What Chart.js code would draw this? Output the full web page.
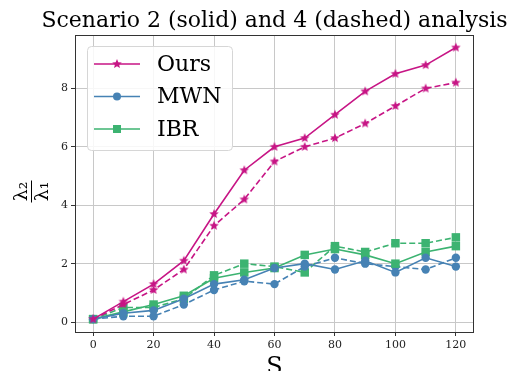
<!DOCTYPE html>
<html>
<head>
<meta charset="utf-8">
<script src="https://cdn.jsdelivr.net/npm/chart.js@4"></script>
<style>
  html, body { margin: 0; padding: 0; background: #fff; }
  #wrap { width: 516px; height: 371px; }
</style>
</head>
<body>
<div id="wrap"><canvas id="scenarioChart" width="516" height="371"></canvas></div>
<script>
var sizes = [0, 10, 20, 30, 40, 50, 60, 70, 80, 90, 100, 110, 120];

// scenario 2 (solid)
var oursSolid = [0.1, 0.7, 1.3, 2.1, 3.7, 5.2, 6.0, 6.3, 7.1, 7.9, 8.5, 8.8, 9.4];
var mwnSolid  = [0.1, 0.3, 0.4, 0.8, 1.3, 1.45, 1.85, 2.0, 1.8, 2.1, 1.7, 2.2, 1.9];
var ibrSolid  = [0.1, 0.35, 0.6, 0.9, 1.5, 1.7, 1.85, 2.3, 2.5, 2.3, 2.0, 2.4, 2.6];

// scenario 4 (dashed)
var oursDashed = [0.1, 0.6, 1.1, 1.8, 3.3, 4.2, 5.5, 6.0, 6.3, 6.8, 7.4, 8.0, 8.2];
var mwnDashed  = [0.1, 0.2, 0.2, 0.6, 1.1, 1.4, 1.3, 1.9, 2.2, 2.0, 1.9, 1.8, 2.2];
var ibrDashed  = [0.1, 0.5, 0.5, 0.8, 1.6, 2.0, 1.9, 1.7, 2.6, 2.4, 2.7, 2.7, 2.9];

var xTicks = [0, 20, 40, 60, 80, 100, 120];
var yTicks = [0, 2, 4, 6, 8];

var OURS = '#c71585', MWN = '#4682b4', IBR = '#3cb371';
var SERIF = '"DejaVu Serif", "Liberation Serif", serif';

function starImage(color, r)
{
    var c = document.createElement('canvas');
    var s = Math.ceil(r * 2 + 2);
    c.width = s; c.height = s;
    var g = c.getContext('2d');
    g.fillStyle = color;
    g.beginPath();
    for (var i = 0; i < 10; i++) {
        var rad = (i % 2 === 0) ? r : r * 0.45;
        var a = -Math.PI / 2 + i * Math.PI / 5;
        var px = s / 2 + rad * Math.cos(a), py = s / 2 + rad * Math.sin(a);
        if (i === 0) g.moveTo(px, py); else g.lineTo(px, py);
    }
    g.closePath();
    g.fill();
    return c;
}
var star = starImage(OURS, 5);

function pts(vals)
{
    return sizes.map(function (s, i) { return { x: s, y: vals[i] }; });
}

function series(label, vals, color, style, radius, dashed)
{
    return {
        label: label,
        data: pts(vals),
        borderColor: color,
        backgroundColor: color,
        pointBackgroundColor: color,
        pointBorderColor: color,
        pointStyle: style,
        pointRadius: radius,
        pointBorderWidth: 0,
        borderWidth: 1.6,
        borderDash: dashed ? [6, 3] : [],
        tension: 0,
        fill: false
    };
}

var extras = {
    id: 'extras',
    afterDraw: function (chart) {
        var ctx = chart.ctx, a = chart.chartArea;
        ctx.save();
        // frame
        ctx.strokeStyle = '#333';
        ctx.lineWidth = 1;
        ctx.strokeRect(a.left + 0.5, a.top + 0.5, a.right - a.left - 1, a.bottom - a.top);

        // title
        ctx.fillStyle = '#000';
        ctx.font = '22px ' + SERIF;
        ctx.textAlign = 'center';
        ctx.textBaseline = 'alphabetic';
        ctx.fillText('Scenario 2 (solid) and 4 (dashed) analysis', (a.left + a.right) / 2, 27);

        // x label
        ctx.font = '24px ' + SERIF;
        ctx.textBaseline = 'top';
        ctx.fillText('S', (a.left + a.right) / 2, 356);

        // y label as fraction
        ctx.translate(31, (a.top + a.bottom) / 2 + 8);
        ctx.rotate(-Math.PI / 2);
        ctx.font = '19px ' + SERIF;
        ctx.textBaseline = 'alphabetic';
        ctx.fillText('λ₂', 0, -4);
        ctx.fillText('λ₁', 0, 17);
        ctx.strokeStyle = '#000';
        ctx.lineWidth = 1;
        ctx.beginPath();
        ctx.moveTo(-11, 0.5); ctx.lineTo(11, 0.5);
        ctx.stroke();
        ctx.restore();

        // legend
        ctx.save();
        var bx = 87, by = 46, bw = 145, bh = 104;
        ctx.fillStyle = 'rgba(255,255,255,0.85)';
        ctx.strokeStyle = '#d6d6d6';
        ctx.lineWidth = 1;
        ctx.beginPath();
        ctx.roundRect(bx + 0.5, by + 0.5, bw, bh, 4);
        ctx.fill();
        ctx.stroke();
        var items = [
            ['Ours', OURS, 'star'],
            ['MWN', MWN, 'circle'],
            ['IBR', IBR, 'rect']
        ];
        ctx.font = '22px ' + SERIF;
        ctx.textAlign = 'left';
        ctx.textBaseline = 'middle';
        items.forEach(function (it, i) {
            var y = 64 + i * 32.5;
            ctx.strokeStyle = it[1];
            ctx.lineWidth = 1.6;
            ctx.beginPath();
            ctx.moveTo(94, y); ctx.lineTo(140, y);
            ctx.stroke();
            ctx.fillStyle = it[1];
            if (it[2] === 'star') {
                ctx.drawImage(star, 117 - star.width / 2, y - star.height / 2);
            } else if (it[2] === 'circle') {
                ctx.beginPath(); ctx.arc(117, y, 4, 0, Math.PI * 2); ctx.fill();
            } else {
                ctx.fillRect(113, y - 4, 8, 8);
            }
            ctx.fillStyle = '#000';
            ctx.fillText(it[0], 157, y + 1);
        });
        ctx.restore();
    }
};

var ctx = document.getElementById('scenarioChart').getContext('2d');

var myChart = new Chart(ctx, {
    type: 'line',
    data: {
        datasets: [
            series('Ours', oursSolid, OURS, star, 5, false),
            series('MWN', mwnSolid, MWN, 'circle', 4.2, false),
            series('IBR', ibrSolid, IBR, 'rect', 6, false),
            series('Ours (4)', oursDashed, OURS, star, 5, true),
            series('MWN (4)', mwnDashed, MWN, 'circle', 4.2, true),
            series('IBR (4)', ibrDashed, IBR, 'rect', 6, true)
        ]
    },
    options: {
        responsive: false,
        animation: false,
        layout: { padding: { top: 35, right: 42, left: 0, bottom: 0 } },
        plugins: {
            legend: { display: false },
            title: { display: false },
            tooltip: { enabled: false }
        },
        scales: {
            x: {
                type: 'linear',
                min: -6,
                max: 126,
                afterFit: function (s) { s.height = 39; },
                afterBuildTicks: function (s) { s.ticks = xTicks.map(function (v) { return { value: v }; }); },
                ticks: { color: '#222', font: { family: SERIF, size: 11 }, padding: 3, maxRotation: 0 },
                grid: { color: '#c8c8c8', tickColor: '#333', tickLength: 4 },
                border: { display: false }
            },
            y: {
                min: -0.34,
                max: 9.83,
                afterFit: function (s) { s.width = 75; },
                afterBuildTicks: function (s) { s.ticks = yTicks.map(function (v) { return { value: v }; }); },
                ticks: { color: '#222', font: { family: SERIF, size: 11 }, padding: 3 },
                grid: { color: '#c8c8c8', tickColor: '#333', tickLength: 4 },
                border: { display: false }
            }
        }
    },
    plugins: [extras]
});
</script>
</body>
</html>
